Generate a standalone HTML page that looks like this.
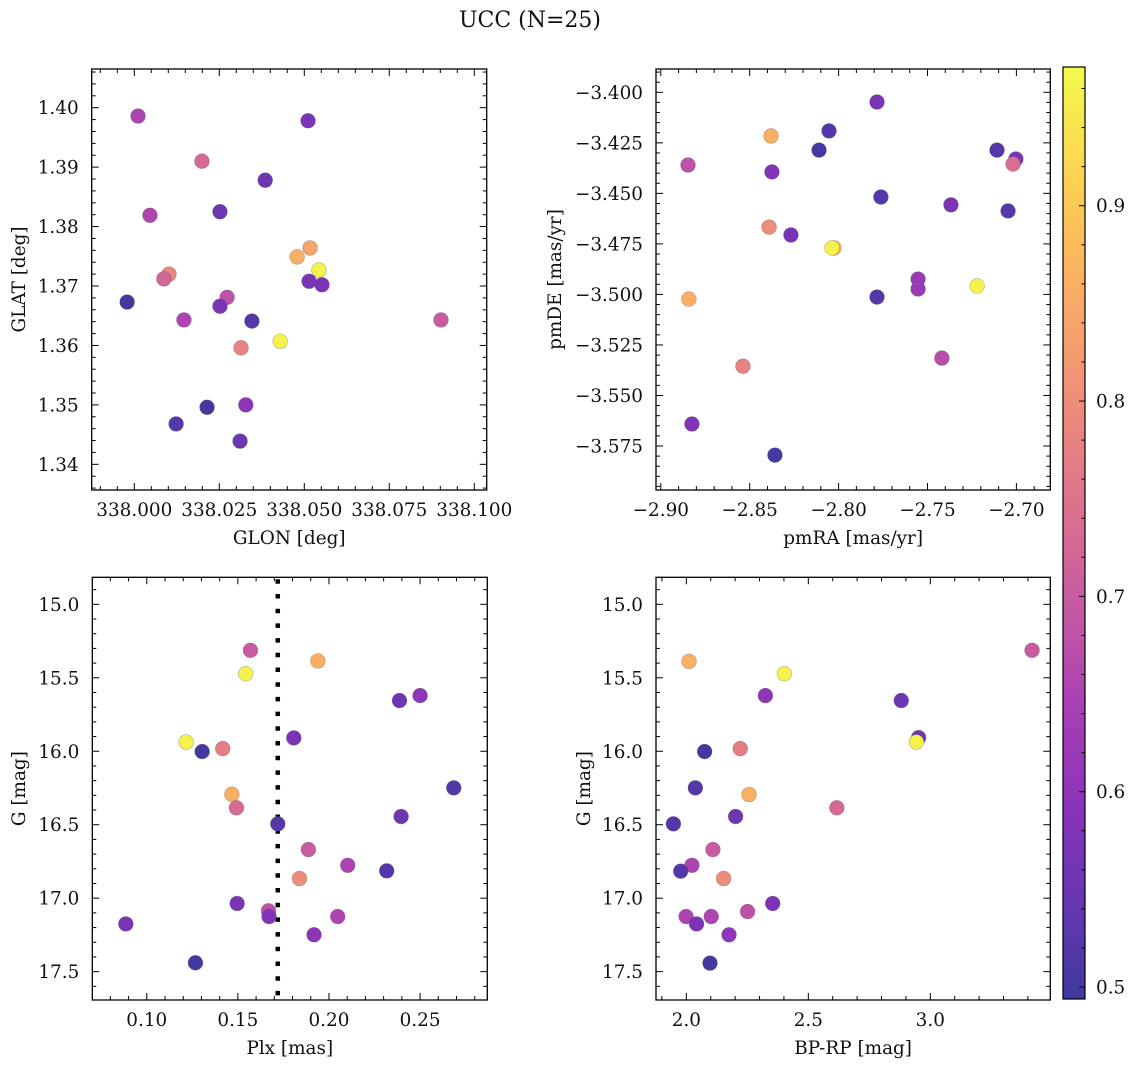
<!DOCTYPE html>
<html><head><meta charset="utf-8"><style>
html,body{margin:0;padding:0;background:#fff;}
svg{display:block;font-family:"DejaVu Serif","Liberation Serif",serif;}
</style></head><body>
<svg id="fig" width="1136" height="1067" viewBox="0 0 1136 1067" xmlns="http://www.w3.org/2000/svg">
<text x="530" y="27" font-size="22" text-anchor="middle" fill="#111">UCC (N=25)</text>
</svg>
<script>
// ---- data ----
const glon = [338.0011,338.0511,338.0199,338.0385,338.0046,338.0252,338.0517,338.0479,338.0543,338.0102,338.0087,338.0514,338.0552,338.0273,337.9979,338.0252,338.0146,338.0346,338.0902,338.0314,338.0429,338.0214,338.0328,338.0123,338.0311];
const glat = [1.3986,1.3978,1.3910,1.3878,1.3819,1.3825,1.3764,1.3749,1.3727,1.3720,1.3712,1.3708,1.3702,1.3681,1.3673,1.3666,1.3643,1.3641,1.3643,1.3596,1.3607,1.3496,1.3500,1.3468,1.3439];
const probTL = [0.65,0.57,0.73,0.55,0.65,0.55,0.84,0.86,0.96,0.79,0.72,0.57,0.57,0.68,0.50,0.57,0.65,0.52,0.70,0.78,0.96,0.50,0.60,0.52,0.55];

const pmra = [-2.7784,-2.8054,-2.8380,-2.8110,-2.7109,-2.7003,-2.7019,-2.8847,-2.8375,-2.7762,-2.7368,-2.7047,-2.8391,-2.8268,-2.8026,-2.8037,-2.7553,-2.7553,-2.7221,-2.8842,-2.7784,-2.7419,-2.8538,-2.8825,-2.8358];
const pmde = [-3.4048,-3.4191,-3.4216,-3.4286,-3.4286,-3.4330,-3.4355,-3.4360,-3.4394,-3.4518,-3.4557,-3.4587,-3.4667,-3.4706,-3.4770,-3.4770,-3.4924,-3.4973,-3.4958,-3.5023,-3.5013,-3.5315,-3.5355,-3.5641,-3.5795];
const probTR = [0.57,0.52,0.86,0.50,0.52,0.57,0.74,0.68,0.58,0.52,0.57,0.52,0.80,0.57,0.86,0.96,0.62,0.62,0.96,0.86,0.52,0.67,0.78,0.58,0.50];

const plx = [0.1569,0.1939,0.1543,0.2387,0.2500,0.1807,0.1216,0.1304,0.1417,0.2685,0.1467,0.1492,0.1719,0.2396,0.1887,0.2103,0.2317,0.1838,0.1496,0.1668,0.1671,0.2048,0.0885,0.1918,0.1267];
const gmagBL = [15.313,15.385,15.472,15.655,15.621,15.909,15.937,16.002,15.982,16.249,16.293,16.385,16.494,16.444,16.669,16.776,16.814,16.866,17.036,17.086,17.125,17.125,17.175,17.249,17.440];
const probBL = [0.70,0.86,0.96,0.55,0.60,0.57,0.96,0.50,0.77,0.52,0.86,0.73,0.52,0.55,0.70,0.65,0.52,0.80,0.57,0.68,0.58,0.65,0.57,0.60,0.50];
const plxLine = [0.1719];

const bprp = [2.011,3.417,2.402,2.324,2.881,2.952,2.943,2.075,2.221,2.037,2.257,2.617,1.947,2.202,2.109,2.023,1.977,2.153,2.354,2.251,1.999,2.102,2.042,2.175,2.097];
const gmagBR = [15.388,15.313,15.472,15.621,15.655,15.907,15.937,16.002,15.982,16.249,16.295,16.385,16.494,16.444,16.669,16.776,16.816,16.866,17.036,17.091,17.125,17.125,17.175,17.249,17.442];
const probBR = [0.86,0.70,0.96,0.60,0.55,0.55,0.96,0.50,0.77,0.52,0.86,0.73,0.52,0.55,0.70,0.65,0.52,0.80,0.57,0.68,0.65,0.65,0.57,0.60,0.50];

const cbTicks = [0.5,0.6,0.7,0.8,0.9];

// ---- rendering ----
const NS = "http://www.w3.org/2000/svg";
const svg = document.getElementById('fig');
const VMIN = 0.4939, VMAX = 0.971;
const FS = 18.4;
const plasma = [[13,8,135],[65,4,157],[106,0,168],[143,13,164],[177,42,144],[204,71,120],[225,100,98],[242,132,75],[252,166,54],[252,206,37],[240,249,33]];
function cmap(v){
  let t=(v-VMIN)/(VMAX-VMIN); t=Math.max(0,Math.min(1,t));
  const f=t*10, i=Math.min(9,Math.floor(f)), r=f-i;
  const a=plasma[i], b=plasma[i+1];
  const c=[0,1,2].map(k=>Math.round((a[k]+(b[k]-a[k])*r)*0.8+255*0.2));
  return `rgb(${c[0]},${c[1]},${c[2]})`;
}
function mk(tag, attrs, parent){
  const e=document.createElementNS(NS,tag);
  for(const k in attrs) e.setAttribute(k,attrs[k]);
  (parent||svg).appendChild(e); return e;
}
function fmt(v,d){ const s=Math.abs(v).toFixed(d); return (v<0?'\u2212':'')+s; }
function ticks(lo,hi,minor,per,cb){
  const a=Math.min(lo,hi), b=Math.max(lo,hi);
  const k0=Math.ceil(a/minor-1e-9), k1=Math.floor(b/minor+1e-9);
  for(let k=k0;k<=k1;k++) cb(k*minor, ((k%per)+per)%per===0);
}

function panel(cfg){
  const g=mk('g',{});
  
  
  const sx=v=>cfg.x0+(v-cfg.xlo)/(cfg.xhi-cfg.xlo)*(cfg.x1-cfg.x0);
  const sy=v=>cfg.y0+(v-cfg.ytop)/(cfg.ybot-cfg.ytop)*(cfg.y1-cfg.y0);
  ticks(cfg.xlo,cfg.xhi,cfg.xminor,cfg.xper,(v,maj)=>{
    const x=sx(v), L=maj?7:4;
    const t1=mk('line',{x1:x,x2:x,y1:cfg.y1,y2:cfg.y1-L,stroke:'#000','stroke-width':1},g);
    
    
    mk('line',{x1:x,x2:x,y1:cfg.y0,y2:cfg.y0+L,stroke:'#000','stroke-width':1},g);
    if(maj){
      const t=mk('text',{x:x,y:cfg.y1+26,'font-size':FS,'text-anchor':'middle',fill:'#111'},g);
      
      
      t.textContent=fmt(v,cfg.xd);
    }
  });
  ticks(cfg.ytop,cfg.ybot,cfg.yminor,cfg.yper,(v,maj)=>{
    const y=sy(v), L=maj?7:4;
    const t1=mk('line',{x1:cfg.x0,x2:cfg.x0+L,y1:y,y2:y,stroke:'#000','stroke-width':1},g);
    
    
    mk('line',{x1:cfg.x1,x2:cfg.x1-L,y1:y,y2:y,stroke:'#000','stroke-width':1},g);
    if(maj){
      const t=mk('text',{x:cfg.x0-13,y:y+6.5,'font-size':FS,'text-anchor':'end',fill:'#111'},g);
      
      
      t.textContent=fmt(v,cfg.yd);
    }
  });
  if(cfg.vline){
    cfg.vline.forEach(v=>{
      const l=mk('line',{x1:sx(v),x2:sx(v),y1:cfg.y0+2,y2:cfg.y1,stroke:'#000','stroke-width':4.5,'stroke-dasharray':'4.5 10.2'},g);
      
      
    });
  }
  cfg.xs.forEach((xv,i)=>{
    const c=mk('circle',{cx:sx(xv),cy:sy(cfg.ys[i]),r:7.4,fill:cmap(cfg.cs[i]),stroke:'rgba(90,90,90,0.45)','stroke-width':0.6},g);
    
    
  });
  const fr=mk('rect',{x:cfg.x0,y:cfg.y0,width:cfg.x1-cfg.x0,height:cfg.y1-cfg.y0,fill:'none',stroke:'#000','stroke-width':1.3},g);
  
  
  const xl=mk('text',{x:(cfg.x0+cfg.x1)/2,y:cfg.y1+54,'font-size':FS,'text-anchor':'middle',fill:'#111'},g);
  
  
  xl.textContent=cfg.xlabel;
  const yx=cfg.ylx, yy=(cfg.y0+cfg.y1)/2;
  const yl=mk('text',{x:yx,y:yy,'font-size':FS,'text-anchor':'middle',fill:'#111',transform:`rotate(-90 ${yx} ${yy})`},g);
  
  
  yl.textContent=cfg.ylabel;
}

panel({name:'glon-glat-panel',x0:91.7,x1:486.7,y0:69,y1:490,xlo:337.98747,xhi:338.10365,ytop:1.40651,ybot:1.33568,
  xminor:0.005,xper:5,yminor:0.002,yper:5,xd:3,yd:2,xs:glon,ys:glat,cs:probTL,xlabel:'GLON [deg]',ylabel:'GLAT [deg]',ylx:25});
panel({name:'pm-panel',x0:656,x1:1050.3,y0:69,y1:490,xlo:-2.9027,xhi:-2.68093,ytop:-3.38847,ybot:-3.59677,
  xminor:0.01,xper:5,yminor:0.005,yper:5,xd:2,yd:3,xs:pmra,ys:pmde,cs:probTR,xlabel:'pmRA [mas/yr]',ylabel:'pmDE [mas/yr]',ylx:561});
panel({name:'plx-g-panel',x0:92.3,x1:487.3,y0:577.3,y1:1000,xlo:0.0701,xhi:0.2869,ytop:14.816,ybot:17.693,
  xminor:0.01,xper:5,yminor:0.1,yper:5,xd:2,yd:1,xs:plx,ys:gmagBL,cs:probBL,vline:plxLine,xlabel:'Plx [mas]',ylabel:'G [mag]',ylx:25});
panel({name:'cmd-panel',x0:656,x1:1050.3,y0:577.3,y1:1000,xlo:1.8757,xhi:3.4918,ytop:14.816,ybot:17.693,
  xminor:0.1,xper:5,yminor:0.1,yper:5,xd:1,yd:1,xs:bprp,ys:gmagBR,cs:probBR,xlabel:'BP-RP [mag]',ylabel:'G [mag]',ylx:590});

// colour bar
(function(){
  const x0=1063,x1=1085,y0=67,y1=999;
  const g=mk('g',{});
  
  
  const defs=mk('defs',{},g);
  const lg=mk('linearGradient',{id:'cbg',x1:0,y1:1,x2:0,y2:0},defs);
  for(let i=0;i<=20;i++){
    const v=VMIN+(VMAX-VMIN)*i/20;
    mk('stop',{offset:(i/20),'stop-color':cmap(v)},lg);
  }
  mk('rect',{x:x0,y:y0,width:x1-x0,height:y1-y0,fill:'url(#cbg)'},g);
  const sy=v=>y1-(v-VMIN)/(VMAX-VMIN)*(y1-y0);
  ticks(VMIN,VMAX,0.02,5,(v,maj)=>{
    const y=sy(v), L=maj?6:3.5;
    const t=mk('line',{x1:x1,x2:x1-L,y1:y,y2:y,stroke:'#000','stroke-width':1},g);
    
    
  });
  cbTicks.forEach(v=>{
    const t=mk('text',{x:x1+11,y:sy(v)+6.5,'font-size':FS,fill:'#111'},g);
    
    
    t.textContent=v.toFixed(1);
  });
  const fr=mk('rect',{x:x0,y:y0,width:x1-x0,height:y1-y0,fill:'none',stroke:'#000','stroke-width':1.2},g);
  
  
})();
</script>
</body></html>
